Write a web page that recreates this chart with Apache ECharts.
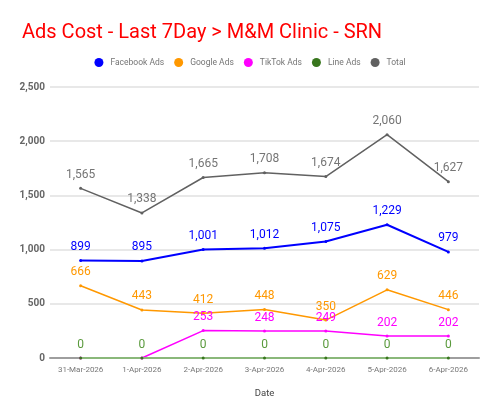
<!DOCTYPE html>
<html>
<head>
<meta charset="utf-8">
<script src="https://cdn.jsdelivr.net/npm/echarts@6/dist/echarts.min.js"></script>
<style>
  html, body { margin: 0; padding: 0; background: #fff; }
  #main { width: 500px; height: 415px; }
</style>
</head>
<body>
<div id="main"></div>
<script>
var dates = ['31-Mar-2026', '1-Apr-2026', '2-Apr-2026', '3-Apr-2026', '4-Apr-2026', '5-Apr-2026', '6-Apr-2026'];
var facebook = [899, 895, 1001, 1012, 1075, 1229, 979];
var google = [666, 443, 412, 448, 350, 629, 446];
var tiktok = [0, 0, 253, 248, 249, 202, 202];
var lineAds = [0, 0, 0, 0, 0, 0, 0];
var total = [1565, 1338, 1665, 1708, 1674, 2060, 1627];

var chart = echarts.init(document.getElementById('main'));

function mk(name, data, color, lineColor, labelColor, width, hideZero) {
  return {
    name: name,
    type: 'line',
    data: data,
    symbol: 'circle',
    symbolSize: 3,
    lineStyle: { color: lineColor, width: width },
    itemStyle: { color: color },
    label: {
      show: true,
      position: 'top',
      distance: 6,
      color: labelColor,
      fontSize: 12,
      fontFamily: 'Roboto',
      formatter: function (p) {
        if (hideZero && p.value === 0) return '';
        return p.value.toLocaleString('en-US');
      }
    }
  };
}

chart.setOption({
  animation: false,
  title: {
    text: 'Ads Cost - Last 7Day > M&M Clinic - SRN',
    left: 17,
    top: 18,
    textStyle: { color: '#ff0000', fontSize: 20, fontWeight: 'normal', fontFamily: 'Roboto' }
  },
  legend: {
    top: 53,
    left: 'center',
    icon: 'circle',
    itemWidth: 9,
    itemHeight: 9,
    itemGap: 10,
    textStyle: { color: '#757575', fontSize: 8.5, fontFamily: 'Roboto', padding: [0, 0, 0, 2] },
    data: ['Facebook Ads', 'Google Ads', 'TikTok Ads', 'Line Ads', 'Total']
  },
  grid: { left: 50, right: 21, top: 87, bottom: 57 },
  xAxis: {
    type: 'category',
    data: dates,
    name: 'Date',
    nameLocation: 'middle',
    nameGap: 31,
    nameTextStyle: { color: '#444', fontSize: 9.5, fontFamily: 'Roboto' },
    axisLine: { lineStyle: { color: '#9e9e9e', width: 2 } },
    axisTick: { show: false },
    axisLabel: { color: '#777', fontSize: 8, fontFamily: 'Roboto', margin: 8, interval: 0 }
  },
  yAxis: {
    type: 'value',
    min: 0,
    max: 2500,
    interval: 500,
    axisLine: { show: false },
    axisTick: { show: false },
    axisLabel: { color: '#666', fontSize: 10, fontWeight: 'bold', fontFamily: 'Roboto', margin: 5 },
    splitLine: { lineStyle: { color: '#e0e0e0', width: 1.5 } }
  },
  series: [
    mk('Facebook Ads', facebook, '#0000ff', '#0000ff', '#0000ff', 2, false),
    mk('Google Ads', google, '#ff9800', '#ff9800', '#ff9800', 1.5, false),
    mk('TikTok Ads', tiktok, '#ff00ff', '#ff00ff', '#ff00ff', 1.5, true),
    mk('Line Ads', lineAds, '#38761d', '#8ab87a', '#5a9a3c', 2, false),
    mk('Total', total, '#616161', '#616161', '#757575', 1.5, false)
  ]
});
</script>
</body>
</html>
